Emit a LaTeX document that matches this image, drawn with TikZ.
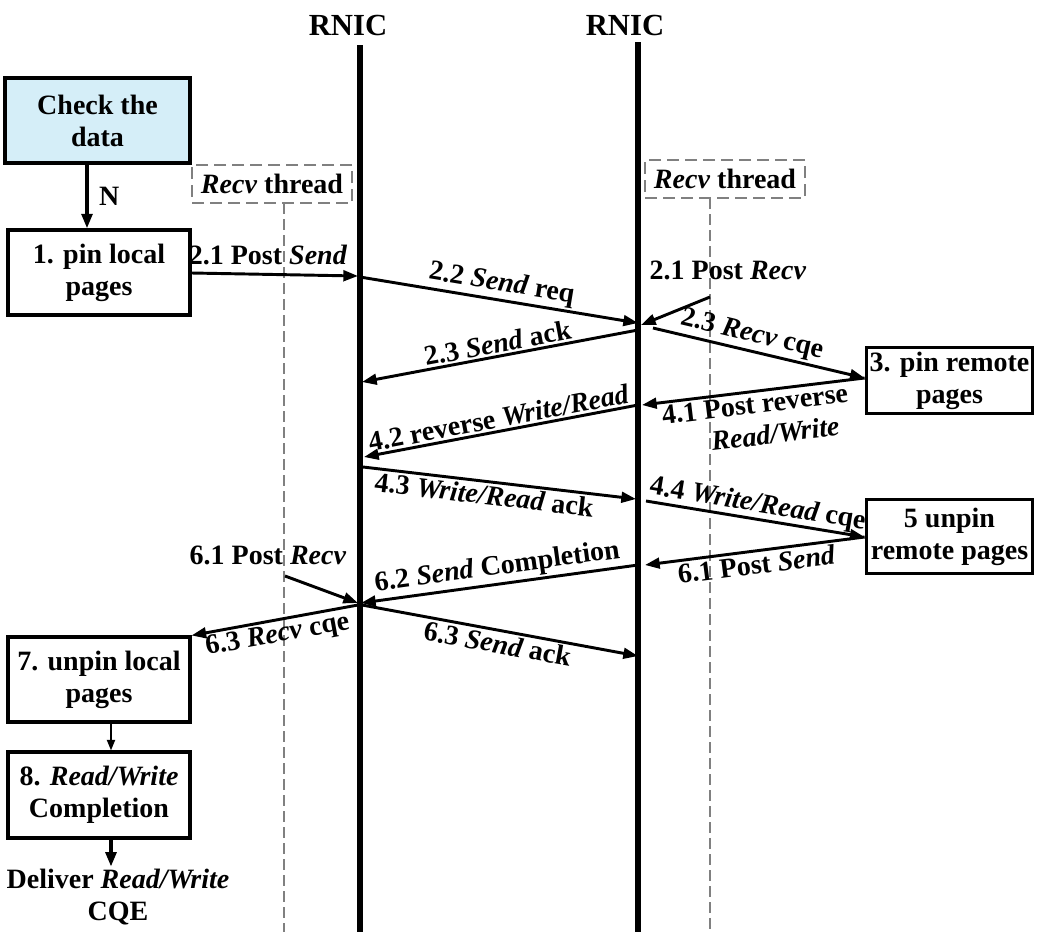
\documentclass[tikz,border=0pt]{standalone}
\usepackage{fontspec}
\setmainfont{Liberation Serif}
\usetikzlibrary{arrows.meta}
\definecolor{checkblue}{RGB}{213,238,248}
\tikzset{
  box/.style={draw, line width=2.3pt, align=center, inner sep=0pt,
    font=\bfseries\fontsize{21}{24}\selectfont},
  thrbox/.style={draw=gray, line width=1.5pt, dash pattern=on 9pt off 4.5pt,
    inner sep=0pt, minimum width=120pt, minimum height=28.5pt,
    font=\bfseries\fontsize{21}{24}\selectfont},
  thrline/.style={gray, line width=1.3pt, dash pattern=on 8pt off 4pt},
  life/.style={line width=4.5pt},
  msg/.style={-{Triangle[length=11pt,width=8pt]}, line width=2.2pt},
  lbl/.style={font=\bfseries\fontsize{21}{24}\selectfont, inner sep=1.5pt, align=center},
}
\begin{document}
\begin{tikzpicture}[x=0.75pt, y=-0.75pt]
  \useasboundingbox (0,0) rectangle (1049,932);

  % the two RNICs
  \node[lbl, font=\bfseries\fontsize{23}{26}\selectfont] (rnicL) at (348,25) {RNIC};
  \node[lbl, font=\bfseries\fontsize{23}{26}\selectfont] (rnicR) at (625,25) {RNIC};
  \coordinate (lifeLtop) at (360,45);  \coordinate (lifeLbot) at (360,932);
  \coordinate (lifeRtop) at (638,42);  \coordinate (lifeRbot) at (638,932);
  \draw[life] (lifeLtop) -- (lifeLbot);
  \draw[life] (lifeRtop) -- (lifeRbot);

  % recv threads
  \node[thrbox] (thrL) at (272,184) {\textit{Recv} thread};
  \node[thrbox] (thrR) at (725,179) {\textit{Recv} thread};
  \coordinate (thrLtop) at (284,203); \coordinate (thrLbot) at (284,932);
  \coordinate (thrRtop) at (710,198); \coordinate (thrRbot) at (710,932);
  \draw[thrline] (thrLtop) -- (thrLbot);
  \draw[thrline] (thrRtop) -- (thrRbot);

  % local side
  \node[box, fill=checkblue, line width=3pt, minimum width=138.75pt, minimum height=63.75pt]
    (check) at (97.5,120.5) {Check the\\data};
  \node[box, minimum width=136.5pt, minimum height=63.75pt] (pinL) at (99,272.5) {1. pin local\\pages};
  \node[box, minimum width=136.5pt, minimum height=63.75pt] (unpinL) at (99,679.5) {7. unpin local\\pages};
  \node[box, minimum width=136.5pt, minimum height=64.5pt] (done) at (99,795) {8. \textit{Read/Write}\\Completion};
  \node[lbl] (deliver) at (118,897) {Deliver \textit{Read/Write}\\CQE};

  % remote side
  \node[box, minimum width=125pt, minimum height=50pt] (pinR) at (949.5,380.5) {3. pin remote\\pages};
  \node[box, minimum width=125pt, minimum height=55pt] (unpinR) at (949.5,536.5) {5 unpin\\remote pages};

  \draw[msg, line width=3pt] (check.south -| 87,0) -- node[lbl, right=6pt] {N} (pinL.north -| 87,0);
  \draw[msg, line width=1.6pt, -{Triangle[length=8pt,width=6pt]}] (unpinL.south -| 111,0) -- (done.north -| 111,0);
  \draw[msg, line width=3pt] (done.south -| 111,0) -- (deliver.north -| 111,0);

  % points on the lifelines
  \coordinate (a1) at (358,276);
  \coordinate (a2) at (360,277);  \coordinate (b2) at (638,323);
  \coordinate (r1) at (710,297);  \coordinate (b1) at (641,325);
  \coordinate (b3) at (638,330);  \coordinate (a3) at (362,382);
  \coordinate (b4) at (653,328);
  \coordinate (b5) at (642,405);
  \coordinate (b6) at (638,405);  \coordinate (a6) at (364,457);
  \coordinate (a7) at (363,467);  \coordinate (b7) at (636,499);
  \coordinate (b8) at (646,501);
  \coordinate (b9) at (645,565);
  \coordinate (b10) at (638,565); \coordinate (a10) at (361,603);
  \coordinate (r2) at (285,576);  \coordinate (a11) at (358,603);
  \coordinate (a12) at (362,605); \coordinate (b12) at (638,656);
  \coordinate (a13) at (358,605);

  \draw[msg] (pinL.east |- 0,273) -- (a1);
  \node[lbl] (l21s) at (268,255) {2.1 Post \textit{Send}};
  \draw[msg] (a2) -- node[lbl, sloped, above] {2.2 \textit{Send} req} (b2);
  \draw[msg] (r1) -- (b1);
  \node[lbl] (l21r) at (728,270) {2.1 Post \textit{Recv}};
  \draw[msg] (b3) -- node[lbl, sloped, above] {2.3 \textit{Send} ack} (a3);
  \draw[msg] (b4) -- node[lbl, sloped, above, pos=0.45] {2.3 \textit{Recv} cqe} (pinR.west |- 0,378);
  \draw[msg] (pinR.west |- 0,378) -- node[lbl, sloped, below] {4.1 Post reverse\\\hspace*{1.2em}\textit{Read/Write}} (b5);
  \draw[msg] (b6) -- node[lbl, sloped, above] {4.2 reverse \textit{Write/Read}} (a6);
  \draw[msg] (a7) -- node[lbl, sloped, below, pos=0.45] {4.3 \textit{Write/Read} ack} (b7);
  \draw[msg] (b8) -- node[lbl, sloped, above, pos=0.5, inner sep=0pt] {4.4 \textit{Write/Read} cqe} (unpinR.west |- 0,537);
  \draw[msg] (unpinR.west |- 0,537) -- node[lbl, sloped, below] {6.1 Post \textit{Send}} (b9);
  \draw[msg] (b10) -- node[lbl, sloped, above] {6.2 \textit{Send} Completion} (a10);
  \draw[msg] (r2) -- (a11);
  \node[lbl] (l61r) at (268,555) {6.1 Post \textit{Recv}};
  \draw[msg] (a12) -- node[lbl, sloped, below] {6.3 \textit{Send} ack} (b12);
  \draw[msg] (a13) -- node[lbl, sloped, below] {6.3 \textit{Recv} cqe} (unpinL.north east);
\end{tikzpicture}
\end{document}
